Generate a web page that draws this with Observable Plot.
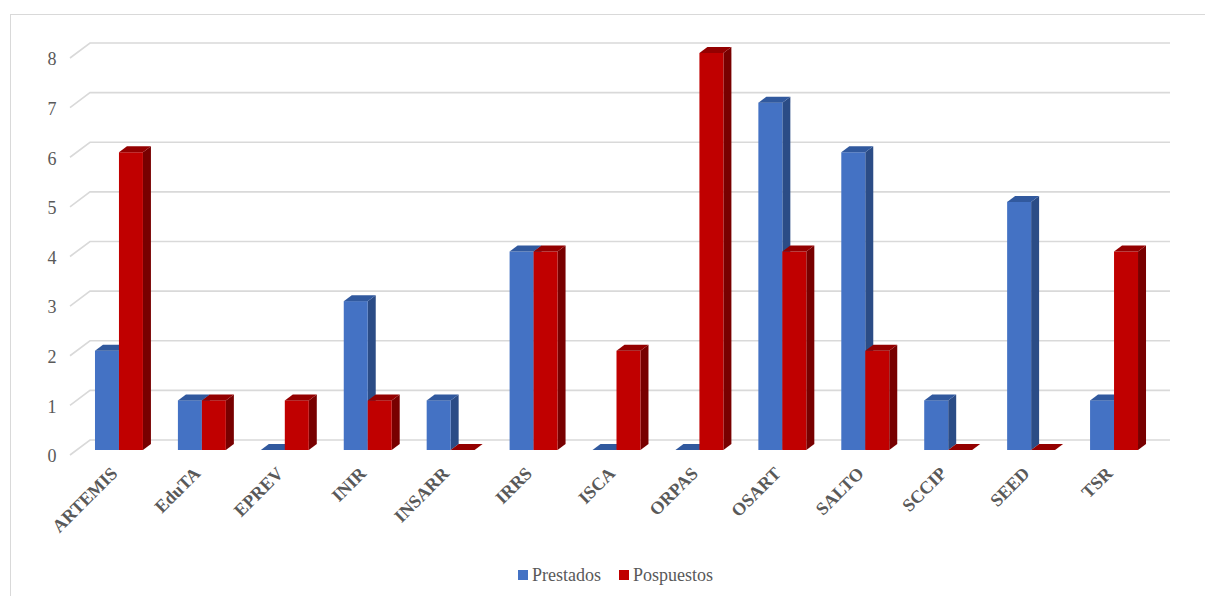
<!DOCTYPE html>
<html><head><meta charset="utf-8">
<script src="https://cdn.jsdelivr.net/npm/d3@7"></script>
<script src="https://cdn.jsdelivr.net/npm/@observablehq/plot@0.6"></script>
<style>
body{margin:0;background:#fff;width:1205px;height:596px;overflow:hidden;position:relative;font-family:"Liberation Serif","Times New Roman",serif;}
#frame{position:absolute;left:10px;top:14px;width:1300px;height:700px;border-left:1.5px solid #d9d9d9;border-top:1.5px solid #d9d9d9;}
#chart{position:absolute;left:0;top:0;}
#legend{position:absolute;top:563px;left:518px;font-size:18px;color:#595959;display:flex;align-items:center;white-space:nowrap;line-height:24px;}
.sw{display:inline-block;width:10px;height:10px;margin-right:4px;}
</style></head><body>
<div id="frame"></div><div id="chart"></div>
<div id="legend"><span class="sw" style="background:#4472C4"></span>Prestados<span class="sw" style="background:#C00000;margin-left:18px"></span>Pospuestos</div>
<script>
const categories = ["ARTEMIS","EduTA","EPREV","INIR","INSARR","IRRS","ISCA","ORPAS","OSART","SALTO","SCCIP","SEED","TSR"];
const prestados  = [2,1,0,3,1,4,0,0,7,6,1,5,1];
const pospuestos = [6,1,1,1,0,4,2,8,4,2,0,0,4];
const yTicks = [0,1,2,3,4,5,6,7,8];
const seriesNames = ["Prestados","Pospuestos"];
const seriesColors = {
  Prestados:  {front:"#4472C4", top:"#31599E", side:"#2B4C86"},
  Pospuestos: {front:"#C00000", top:"#940000", side:"#780000"}
};

const BW = 24/83;           // bar width as a fraction of a category step
const DX = 8, DY = -6;      // bar depth projection (px)

const rows = [];
categories.forEach((c, i) => {
  rows.push({i, cat:c, series:"Prestados", v:prestados[i], off:-1});
  rows.push({i, cat:c, series:"Pospuestos", v:pospuestos[i], off:0});
});

function bars3d(series) {
  const data = rows.filter(d => d.series === series);
  const col = seriesColors[series];
  return Plot.rect(data, {
    x1: d => d.i + d.off*BW,
    x2: d => d.i + (d.off+1)*BW,
    y1: () => 0,
    y2: d => d.v,
    render(index, scales, values) {
      const g = d3.create("svg:g");
      for (const k of index) {
        const x1 = values.x1[k], x2 = values.x2[k];
        const yb = values.y1[k], yt = values.y2[k];
        if (yb - yt > 0.5) {
          g.append("path").attr("fill", col.side)
            .attr("d", `M${x2},${yt}L${x2+DX},${yt+DY}L${x2+DX},${yb+DY}L${x2},${yb}Z`);
          g.append("rect").attr("fill", col.front)
            .attr("x", x1).attr("y", yt).attr("width", x2-x1).attr("height", yb-yt);
        }
        g.append("path").attr("fill", col.top)
          .attr("d", `M${x1},${yt}L${x1+DX},${yt+DY}L${x2+DX},${yt+DY}L${x2},${yt}Z`);
      }
      return g.node();
    }
  });
}

const grid = Plot.ruleY(yTicks, {
  y: d => d,
  render(index, scales, values) {
    const g = d3.create("svg:g").attr("fill","none").attr("stroke","#d9d9d9").attr("stroke-width",1.6);
    const left = scales.x(-0.5), right = scales.x(12.5);
    for (const k of index) {
      const y = values.y[k];
      g.append("path").attr("d", `M${left-7.5},${y+5}L${left+12.5},${y-10}L${right+14.5},${y-10}`);
    }
    return g.node();
  }
});

const chart = Plot.plot({
  width: 1205, height: 555,
  marginTop: 53, marginBottom: 105, marginLeft: 77.5, marginRight: 49.5,
  style: {fontFamily: '"Liberation Serif","Times New Roman",serif', background: "transparent"},
  x: {type: "linear", domain: [-0.5, 12.5], axis: null},
  y: {domain: [0, 8], axis: null},
  marks: [
    grid,
    Plot.text(yTicks, {y: d => d, frameAnchor: "left", dx: -21.5, dy: 6, textAnchor: "end", fontSize: 18, fill: "#595959", text: d => String(d)}),
    bars3d("Prestados"),
    bars3d("Pospuestos"),
    Plot.text(categories, {x: (d, i) => i, y: () => 0, text: d => d, rotate: -45, textAnchor: "end", dx: -5, dy: 20, fontSize: 18, fontWeight: "bold", fill: "#595959"})
  ]
});
document.getElementById("chart").appendChild(chart);
</script>
</body></html>
